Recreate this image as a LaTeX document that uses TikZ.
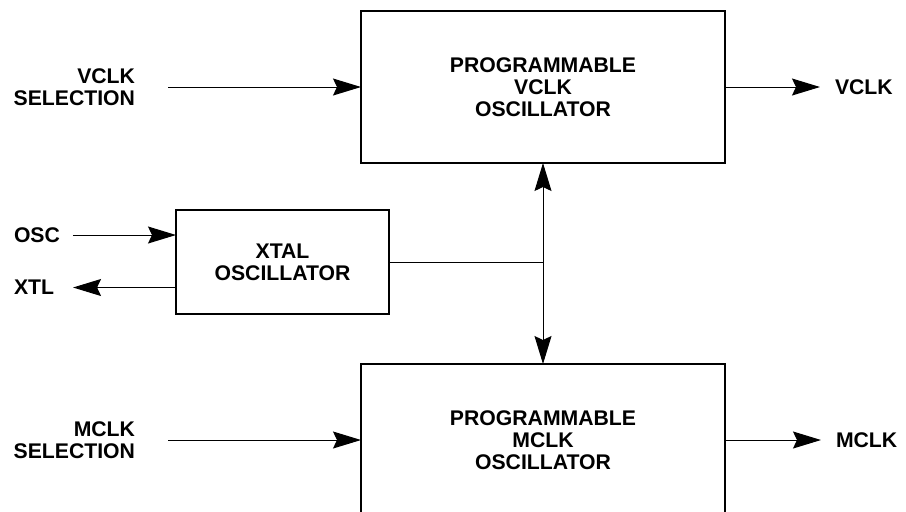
\documentclass[tikz,border=0pt]{standalone}
\usepackage{fontspec}
\setmainfont{Liberation Sans}
\usetikzlibrary{arrows.meta}
\tikzset{
	every node/.style={font=\bfseries\fontsize{10.6}{11}\selectfont,inner sep=0pt,outer sep=0pt},
	block/.style={draw,line width=1.1pt,align=center},
	bigblock/.style={block,minimum width=182pt,minimum height=76pt},
	label/.style={align=right},
	sig/.style={line width=0.5pt,arrows={-Stealth[length=14pt,width=8.5pt,inset=2pt]}},
	bisig/.style={line width=0.5pt,arrows={Stealth[length=14pt,width=8.5pt,inset=2pt]-Stealth[length=14pt,width=8.5pt,inset=2pt]}}
	}

\begin{document}
\begin{tikzpicture}[x=0.5pt,y=-0.5pt]
      \clip (0,0) rectangle (906,511);
      % oscillator blocks
      \node[bigblock] (vosc) at (543,87) {PROGRAMMABLE\\VCLK\\OSCILLATOR};
      \node[bigblock] (mosc) at (543,440) {PROGRAMMABLE\\MCLK\\OSCILLATOR};
      \node[block,minimum width=106.5pt,minimum height=52pt] (xosc) at (282.5,262) {XTAL\\OSCILLATOR};
      % signal names
      \node[label,anchor=east] (vsel) at (135,87) {VCLK\\SELECTION};
      \node[label,anchor=east] (msel) at (135,440) {MCLK\\SELECTION};
      \node[anchor=west] (osc) at (14,235) {OSC};
      \node[anchor=west] (xtl) at (14,287.5) {XTL};
      \node[anchor=west] (vclk) at (835,87) {VCLK};
      \node[anchor=west] (mclk) at (836,440) {MCLK};
      \coordinate (junc) at (xosc.east -| vosc.south);
      % connections
      \draw[sig] ([xshift=16.5pt]vsel.east) -- (vosc.west);
      \draw[sig] ([xshift=16.5pt]msel.east) -- (mosc.west);
      \draw[sig] ([xshift=6.5pt]osc.east) -- (osc.east -| xosc.west);
      \draw[sig] (xtl.east -| xosc.west) -- ([xshift=9.5pt]xtl.east);
      \draw[sig] (vosc.east) -- ([xshift=-7.5pt]vclk.west);
      \draw[sig] (mosc.east) -- ([xshift=-7.5pt]mclk.west);
      \draw[line width=0.5pt] (xosc.east) -- (junc);
      \draw[bisig] (vosc.south) -- (mosc.north);
\end{tikzpicture}
\end{document}
